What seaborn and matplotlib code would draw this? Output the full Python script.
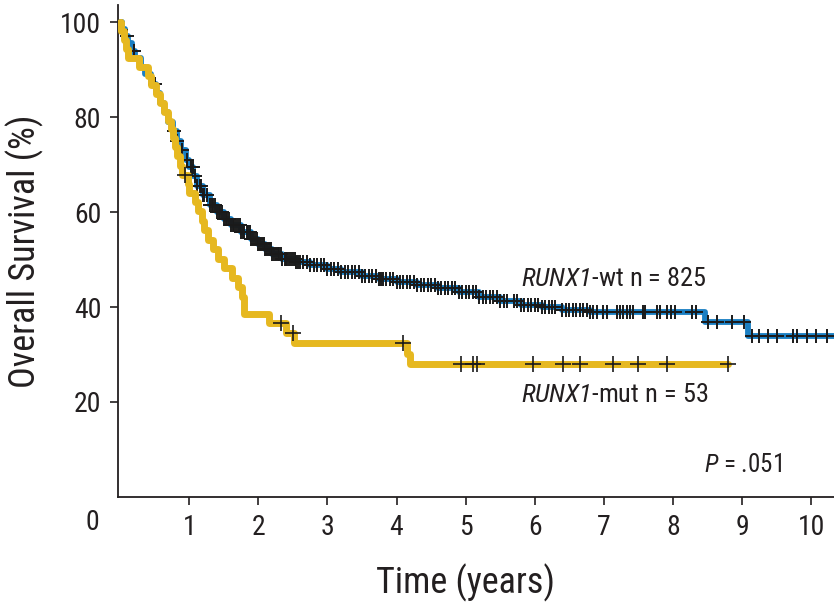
import numpy as np
import pandas as pd
import matplotlib
matplotlib.use("Agg")
import matplotlib.pyplot as plt
from matplotlib import font_manager as fm
import seaborn as sns

# ---------------- data ----------------
wt_time = [0.0, 0.03, 0.07, 0.12, 0.17, 0.22, 0.30, 0.36, 0.45, 0.52, 0.58, 0.63, 0.70,
           0.76, 0.82, 0.88, 0.95, 1.00, 1.06, 1.12, 1.20, 1.30, 1.40, 1.50, 1.60, 1.75,
           1.90, 2.00, 2.10, 2.20, 2.35, 2.55, 2.75, 3.00, 3.20, 3.50, 3.75, 4.00, 4.30,
           4.60, 4.90, 5.20, 5.50, 5.80, 6.10, 6.40, 6.80, 8.46, 9.08, 10.33]
wt_surv = [100, 98.5, 97, 95.5, 94, 92.5, 90.5, 89, 87, 85, 83, 81, 79,
           77, 75, 73, 71, 69.5, 67.5, 65.5, 63.5, 61.5, 60, 58.5, 57.3, 55.8,
           54.3, 53.2, 52.2, 51.2, 50.2, 49.4, 48.8, 48.0, 47.3, 46.5, 45.8, 45.2, 44.6,
           44.0, 43.2, 42.2, 41.3, 40.5, 40.0, 39.4, 39.0, 36.8, 33.9, 33.9]
wt_censor = [0.10, 0.20, 0.50, 0.78, 0.82, 0.90, 0.97, 1.02, 1.05, 1.08, 1.12, 1.15, 1.17,
             1.20, 1.22, 1.26, 1.30, 1.33, 1.35, 1.38, 1.40, 1.43, 1.45, 1.48, 1.50, 1.53,
             1.55, 1.58, 1.60, 1.63, 1.65, 1.68, 1.70, 1.73, 1.75, 1.78, 1.80, 1.83, 1.85,
             1.88, 1.90, 1.93, 1.95, 1.98, 2.00, 2.03, 2.05, 2.08, 2.10, 2.13, 2.15, 2.18,
             2.20, 2.23, 2.25, 2.28, 2.30, 2.33, 2.35, 2.38, 2.40, 2.42, 2.45, 2.48, 2.50,
             2.53, 2.55, 2.58, 2.60, 2.65, 2.70, 2.75, 2.80, 2.85, 2.90, 2.95, 3.00, 3.05,
             3.10, 3.15, 3.20, 3.25, 3.30, 3.35, 3.40, 3.45, 3.50, 3.55, 3.60, 3.65, 3.70,
             3.75, 3.78, 3.80, 3.85, 3.90, 3.95, 4.00, 4.05, 4.10, 4.15, 4.20, 4.25, 4.30,
             4.35, 4.40, 4.45, 4.50, 4.55, 4.60, 4.65, 4.70, 4.75, 4.80, 4.85, 4.90, 4.95,
             5.00, 5.05, 5.10, 5.15, 5.20, 5.25, 5.30, 5.35, 5.40, 5.45, 5.50, 5.55, 5.60,
             5.70, 5.75, 5.80, 5.85, 5.90, 5.95, 6.00, 6.05, 6.10, 6.15, 6.20, 6.25, 6.30,
             6.40, 6.45, 6.50, 6.55, 6.60, 6.65, 6.70, 6.75, 6.80, 6.85, 6.90, 6.99, 7.05,
             7.19, 7.23, 7.28, 7.33, 7.38, 7.42, 7.56, 7.60, 7.77, 7.81, 7.91, 7.97, 8.03,
             8.27, 8.34, 8.50, 8.63, 8.86, 9.03, 9.14, 9.25, 9.37, 9.50, 9.73, 9.80, 9.94,
             10.07, 10.23]

mut_time = [0.0, 0.02, 0.05, 0.08, 0.12, 0.28, 0.40, 0.45, 0.52, 0.58, 0.63, 0.70, 0.73,
            0.76, 0.80, 0.83, 0.86, 0.90, 0.98, 1.00, 1.08, 1.13, 1.18, 1.22, 1.27, 1.35,
            1.42, 1.50, 1.62, 1.70, 1.76, 1.80, 2.15, 2.40, 2.52, 4.15, 4.20, 8.80]
mut_surv = [100, 98.1, 96.2, 94.3, 92.5, 90.6, 88.7, 86.8, 84.9, 83.0, 81.1, 79.2, 77.4,
            75.5, 73.6, 71.7, 69.8, 67.9, 66.0, 64.1, 62.1, 60.2, 58.2, 56.2, 54.2, 52.2,
            50.2, 48.2, 46.2, 44.2, 42.2, 38.5, 36.6, 34.6, 32.4, 30.1, 27.9, 27.9]
mut_censor = [0.94, 2.33, 2.50, 4.10, 4.93, 5.10, 5.17, 5.97, 6.41, 6.66, 7.13, 7.49, 7.91, 8.79]

# ---------------- styling ----------------
TXT = "#231f20"
BLUE = "#1a7fc3"
GOLD = "#e6b820"

sns.set_theme(style="ticks")

# prefer a condensed sans if one is installed
family = "Liberation Sans"
stretch = "normal"
cond = [f for f in fm.fontManager.ttflist
        if ("Narrow" in f.name or "Condensed" in f.name
            or str(f.stretch) in ("condensed", "semi-condensed", "extra-condensed"))]
if cond:
    pref = sorted(cond, key=lambda f: (0 if "Liberation" in f.name else
                                       1 if "Roboto" in f.name else
                                       2 if "DejaVu" in f.name else 3))
    family = pref[0].name
    stretch = pref[0].stretch if not isinstance(pref[0].stretch, int) else "condensed"

plt.rcParams["font.family"] = [family, "DejaVu Sans"]
plt.rcParams["font.stretch"] = stretch
plt.rcParams["mathtext.fontset"] = "custom"
plt.rcParams["mathtext.it"] = f"{family}:italic"
plt.rcParams["mathtext.rm"] = f"{family}:italic"
plt.rcParams["text.color"] = TXT
plt.rcParams["axes.labelcolor"] = TXT
plt.rcParams["xtick.color"] = TXT
plt.rcParams["ytick.color"] = TXT

fig = plt.figure(figsize=(8.34, 6.08), dpi=100)
ax = fig.add_axes([0.1415, 0.1826, 0.8585, 0.8092])


def step_value(times, surv, t):
    idx = np.searchsorted(np.asarray(times), t, side="right") - 1
    return np.asarray(surv)[idx]


wt_df = pd.DataFrame({"t": wt_time, "s": wt_surv})
mut_df = pd.DataFrame({"t": mut_time, "s": mut_surv})
wt_c = pd.DataFrame({"t": wt_censor, "s": step_value(wt_time, wt_surv, wt_censor)})
mut_c = pd.DataFrame({"t": mut_censor, "s": step_value(mut_time, mut_surv, mut_censor)})

sns.lineplot(data=wt_df, x="t", y="s", ax=ax, color=BLUE, lw=4.2,
             drawstyle="steps-post", estimator=None, sort=False, zorder=2)
sns.scatterplot(data=wt_c, x="t", y="s", ax=ax, marker="+", color="#1a1a1a",
                s=100, linewidth=1.4, zorder=3)
sns.lineplot(data=mut_df, x="t", y="s", ax=ax, color=GOLD, lw=5.0,
             drawstyle="steps-post", estimator=None, sort=False, zorder=4)
sns.scatterplot(data=mut_c, x="t", y="s", ax=ax, marker="+", color="#1a1a1a",
                s=120, linewidth=1.2, zorder=5)

ax.set_xlim(-0.03, 10.33)
ax.set_ylim(0, 103.6)
ax.set_xticks(range(1, 11))
ax.set_xticklabels([str(i) for i in range(1, 11)])
ax.set_yticks([20, 40, 60, 80, 100])
ax.tick_params(axis="both", direction="out", length=6, width=1.2, labelsize=20, pad=6)
for side in ["top", "right"]:
    ax.spines[side].set_visible(False)
for side in ["left", "bottom"]:
    ax.spines[side].set_linewidth(1.3)
    ax.spines[side].set_color(TXT)

ax.annotate("0", xy=(0, 0), xycoords=("data", "axes fraction"),
            xytext=(-20, -9), textcoords="offset points",
            ha="center", va="top", fontsize=20, color=TXT)

ax.set_xlabel("Time (years)", fontsize=26, labelpad=20)
ax.xaxis.set_label_coords(0.486, -0.135)
ax.set_ylabel("Overall Survival (%)", fontsize=26, labelpad=12)

ax.text(5.8, 46.0, "$\\mathrm{RUNX1}$-wt n = 825", fontsize=19, ha="left", va="center")
ax.text(5.8, 21.5, "$\\mathrm{RUNX1}$-mut n = 53", fontsize=19, ha="left", va="center")
ax.text(8.45, 6.8, "$\\mathrm{P}$ = .051", fontsize=18, ha="left", va="center")

fig.savefig("out.png", dpi=100)
